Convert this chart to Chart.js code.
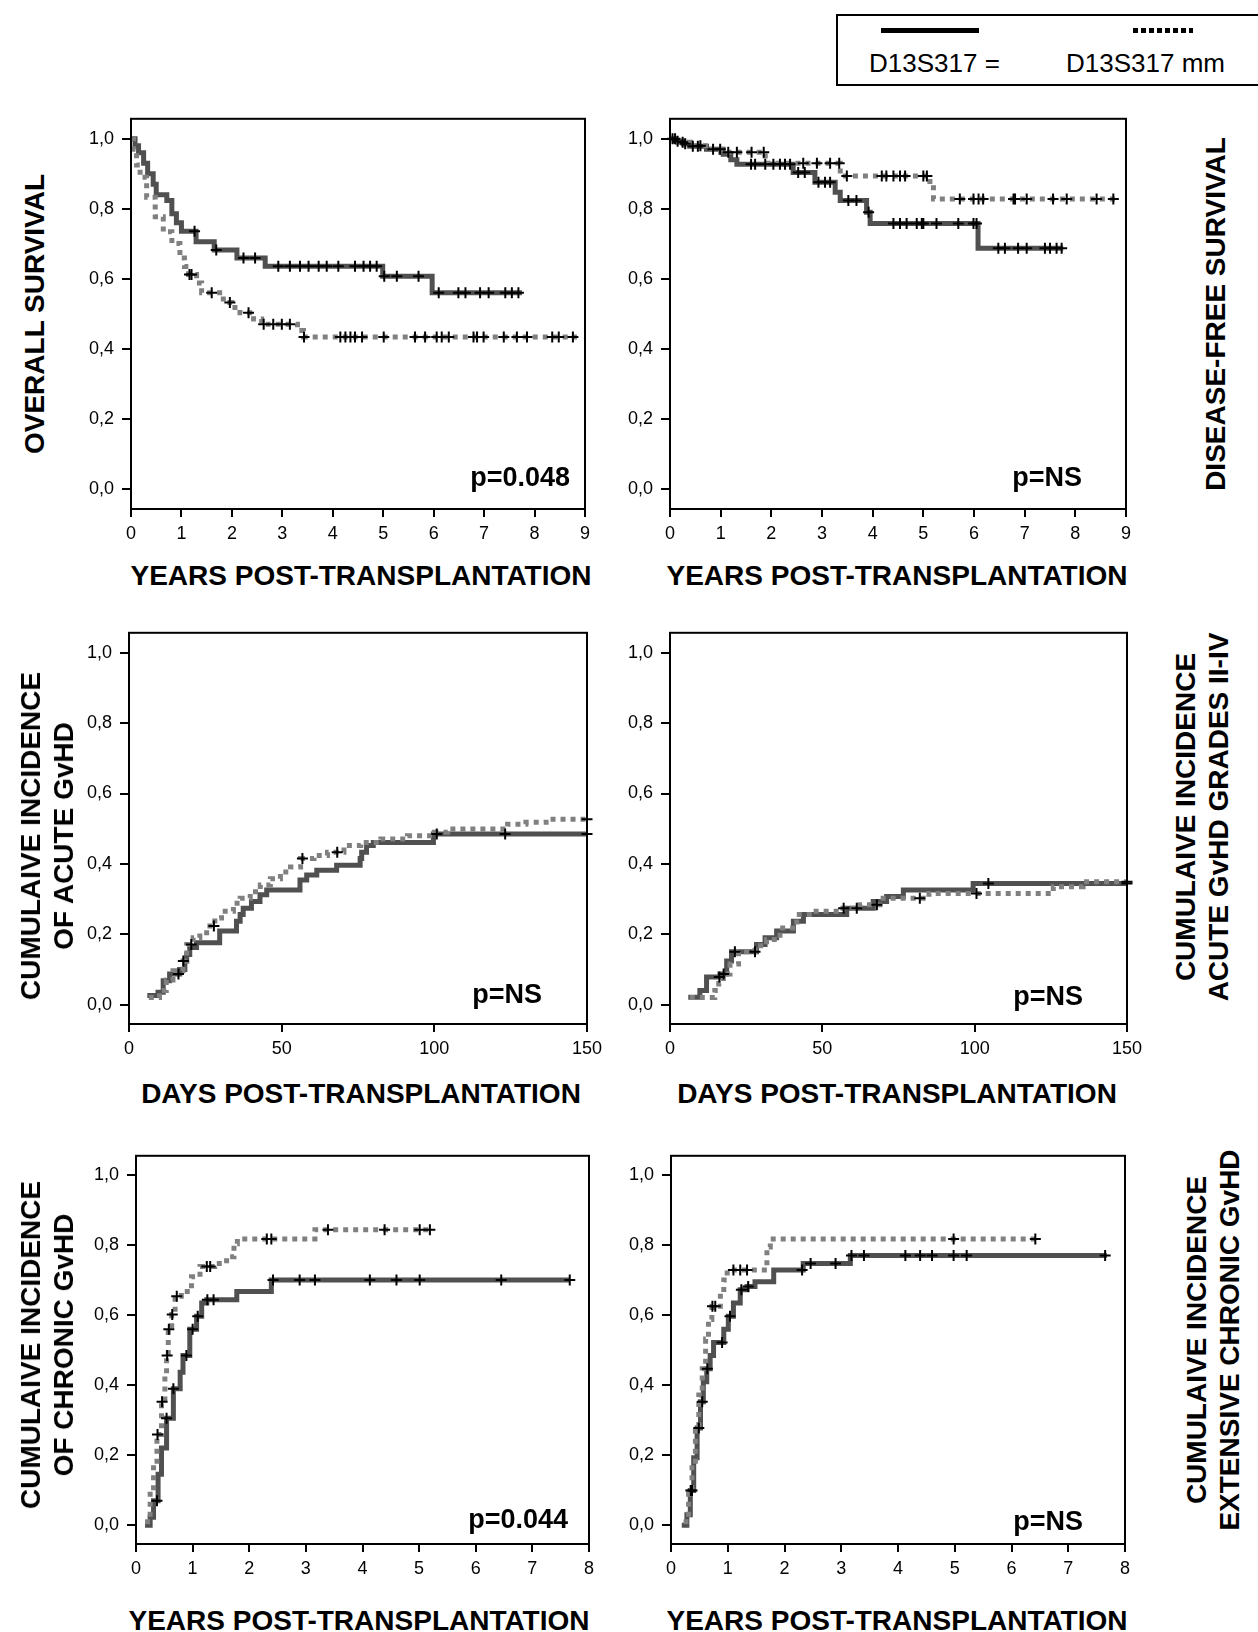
<!DOCTYPE html>
<html><head><meta charset="utf-8">
<script src="https://cdn.jsdelivr.net/npm/chart.js@4.4.1/dist/chart.umd.min.js"></script>
<style>
html,body{margin:0;padding:0;background:#fff;}
body{width:1258px;height:1632px;position:relative;overflow:hidden;font-family:"Liberation Sans",Arial,sans-serif;}
canvas{position:absolute;}
.t{position:absolute;font-weight:bold;font-size:28px;line-height:28px;color:#000;text-align:center;white-space:nowrap;width:600px;}
.rot{position:absolute;font-weight:bold;font-size:28px;line-height:33px;color:#000;text-align:center;white-space:nowrap;transform:translate(-50%,-50%) rotate(-90deg);}
.leg{position:absolute;font-size:26px;line-height:26px;color:#000;white-space:nowrap;}
</style></head><body>

<div style="position:absolute;left:836px;top:14px;width:440px;height:68px;border:2px solid #000;"></div>
<div style="position:absolute;left:881px;top:28px;width:98px;height:5px;background:#000;"></div>
<div style="position:absolute;left:1133px;top:28px;width:60px;height:5px;background:repeating-linear-gradient(to right,#000 0,#000 5px,transparent 5px,transparent 8px);"></div>
<div class="leg" style="left:869px;top:50px;">D13S317 =</div>
<div class="leg" style="left:1066px;top:50px;">D13S317 mm</div>

<canvas id="c0"></canvas><canvas id="c1"></canvas>
<canvas id="c2"></canvas><canvas id="c3"></canvas>
<canvas id="c4"></canvas><canvas id="c5"></canvas>

<div class="t" style="left:61px;top:562px;">YEARS POST-TRANSPLANTATION</div>
<div class="t" style="left:597px;top:562px;">YEARS POST-TRANSPLANTATION</div>
<div class="t" style="left:61px;top:1080px;">DAYS POST-TRANSPLANTATION</div>
<div class="t" style="left:597px;top:1080px;">DAYS POST-TRANSPLANTATION</div>
<div class="t" style="left:59px;top:1607px;">YEARS POST-TRANSPLANTATION</div>
<div class="t" style="left:597px;top:1607px;">YEARS POST-TRANSPLANTATION</div>

<div class="rot" style="left:34px;top:314px;">OVERALL SURVIVAL</div>
<div class="rot" style="left:1215px;top:314px;">DISEASE-FREE SURVIVAL</div>
<div class="rot" style="left:47px;top:836px;">CUMULAIVE INCIDENCE<br>OF ACUTE GvHD</div>
<div class="rot" style="left:1202px;top:817px;">CUMULAIVE INCIDENCE<br>ACUTE GvHD GRADES II-IV</div>
<div class="rot" style="left:47px;top:1345px;">CUMULAIVE INCIDENCE<br>OF CHRONIC GvHD</div>
<div class="rot" style="left:1213px;top:1340px;">CUMULAIVE INCIDENCE<br>EXTENSIVE CHRONIC GvHD</div>

<script>
// ---------- DATA ----------
const yTicks = [0, 0.2, 0.4, 0.6, 0.8, 1.0];
const yearTicks9 = [0,1,2,3,4,5,6,7,8,9];
const dayTicks = [0,50,100,150];
const yearTicks8 = [0,1,2,3,4,5,6,7,8];
const pValues = ['p=0.048','p=NS','p=NS','p=NS','p=0.044','p=NS'];

// Overall survival (years, survival)
const osMatch = [[0,1.0],[0.08,0.98],[0.15,0.96],[0.25,0.93],[0.33,0.9],[0.44,0.87],[0.5,0.84],[0.71,0.824],[0.81,0.786],[0.9,0.76],[1.0,0.736],[1.29,0.706],[1.65,0.682],[2.1,0.659],[2.66,0.636],[4.99,0.607],[5.97,0.56],[7.75,0.56]];
const osMatchCens = [1.26,1.69,2.23,2.46,2.92,3.15,3.35,3.52,3.72,3.88,4.11,4.44,4.61,4.74,4.87,5.02,5.27,5.7,6.1,6.49,6.63,6.92,7.09,7.42,7.55,7.68];
const osMism = [[0,1.0],[0.05,0.97],[0.11,0.925],[0.18,0.89],[0.31,0.833],[0.48,0.777],[0.64,0.734],[0.81,0.701],[0.97,0.659],[1.06,0.635],[1.14,0.612],[1.3,0.588],[1.4,0.56],[1.83,0.532],[2.0,0.518],[2.16,0.503],[2.43,0.485],[2.59,0.47],[3.3,0.452],[3.42,0.433],[8.84,0.433]];
const osMismCens = [1.16,1.2,1.6,1.96,2.33,2.63,2.82,2.99,3.15,3.43,4.15,4.25,4.35,4.44,4.58,5.01,5.63,5.83,6.06,6.16,6.3,6.79,6.86,6.99,7.39,7.65,7.85,8.35,8.48,8.76];

// Disease-free survival (years, survival)
const dfsMatch = [[0,1.0],[0.1,0.993],[0.26,0.986],[0.39,0.979],[0.72,0.97],[1.05,0.956],[1.2,0.94],[1.32,0.927],[2.43,0.904],[2.86,0.876],[3.26,0.847],[3.36,0.824],[3.88,0.79],[3.95,0.758],[6.08,0.687],[7.76,0.687]];
const dfsMatchCens = [0.05,0.15,0.3,0.45,0.55,0.85,1.6,1.68,1.88,2.04,2.17,2.27,2.37,2.53,2.66,2.93,3.06,3.16,3.52,3.68,3.92,4.41,4.54,4.67,4.87,4.97,5.0,5.26,5.69,5.99,6.05,6.48,6.61,6.87,7.04,7.4,7.5,7.63,7.73];
const dfsMism = [[0,1.0],[0.15,0.99],[0.4,0.98],[0.7,0.97],[1.0,0.962],[1.88,0.93],[3.36,0.894],[5.13,0.87],[5.2,0.828],[8.82,0.828]];
const dfsMismCens = [0.1,0.25,0.6,0.99,1.15,1.32,1.61,1.85,2.63,2.9,3.16,3.34,3.49,4.18,4.27,4.41,4.54,4.64,5.0,5.07,5.72,5.99,6.09,6.18,6.78,6.81,7.04,7.56,7.83,8.42,8.75];

// Acute GvHD (days, cumulative incidence)
const agvhdMatch = [[6,0.026],[9.5,0.035],[11.2,0.068],[13.3,0.087],[16.6,0.1],[18.3,0.124],[18.9,0.142],[19.9,0.162],[22.1,0.176],[29.7,0.209],[35.2,0.237],[36.4,0.256],[37.4,0.274],[40.1,0.293],[42.9,0.312],[45.1,0.326],[56,0.354],[58.2,0.368],[61.5,0.382],[68,0.396],[75.7,0.415],[76.2,0.433],[77.8,0.452],[80,0.461],[99.7,0.485],[150,0.485]];
const agvhdMatchCens = [16.2,100.8,123.2,150];
const agvhdMism = [[6.5,0.02],[10,0.04],[12.2,0.07],[14.4,0.096],[17.7,0.124],[18.9,0.171],[21,0.19],[23.2,0.204],[26.5,0.223],[28.1,0.246],[30.3,0.265],[34.2,0.288],[36.4,0.302],[39.7,0.321],[43,0.34],[46.3,0.358],[49.6,0.377],[52.9,0.391],[56.2,0.415],[60.6,0.424],[65,0.433],[70.4,0.452],[75.9,0.461],[82.5,0.471],[91.2,0.48],[100,0.49],[104.4,0.499],[124,0.513],[130,0.518],[136.6,0.527],[150,0.527]];
const agvhdMismCens = [17.8,20.4,27.8,56.8,68.2,150];

// Acute GvHD grades II-IV (days, cumulative incidence)
const agvhd24Match = [[6,0.021],[9.8,0.04],[12,0.078],[16.4,0.087],[18.6,0.124],[20.2,0.15],[28.4,0.171],[31.2,0.19],[35,0.209],[40.5,0.237],[43.8,0.256],[58,0.274],[66.7,0.293],[71.1,0.307],[76.6,0.326],[99.5,0.344],[150,0.344]];
const agvhd24MatchCens = [16.2,21.3,27.9,104.5,150];
const agvhd24Mism = [[6.5,0.02],[14.7,0.04],[16,0.06],[17.5,0.087],[19.7,0.115],[22.5,0.15],[27.9,0.167],[31.7,0.185],[36.1,0.218],[41.6,0.256],[47,0.265],[55.8,0.274],[62.4,0.284],[68.9,0.302],[85,0.316],[125.8,0.335],[135.6,0.349],[150,0.349]];
const agvhd24MismCens = [17.6,57,61.3,67.9,82,100.6,150];

// Chronic GvHD (years, cumulative incidence)
const cgvhdMatch = [[0.16,0],[0.25,0.023],[0.31,0.07],[0.39,0.146],[0.45,0.221],[0.54,0.306],[0.66,0.39],[0.78,0.437],[0.83,0.485],[0.95,0.56],[1.07,0.597],[1.16,0.635],[1.25,0.644],[1.78,0.668],[2.39,0.701],[7.66,0.701]];
const cgvhdMatchCens = [0.37,0.54,0.66,0.89,1.0,1.09,1.26,1.37,2.42,2.89,3.16,4.13,4.6,5.01,6.45,7.66];
const cgvhdMism = [[0.16,0.01],[0.25,0.099],[0.31,0.183],[0.37,0.259],[0.45,0.353],[0.51,0.428],[0.54,0.485],[0.57,0.56],[0.63,0.602],[0.69,0.654],[0.8,0.668],[0.98,0.71],[1.13,0.739],[1.39,0.748],[1.6,0.767],[1.73,0.804],[1.79,0.818],[3.16,0.844],[5.25,0.844]];
const cgvhdMismCens = [0.38,0.46,0.55,0.58,0.64,0.72,1.25,1.31,2.31,2.39,3.39,4.39,5.01,5.19];

// Extensive chronic GvHD (years, cumulative incidence)
const ecgvhdMatch = [[0.19,0],[0.28,0.03],[0.34,0.099],[0.4,0.193],[0.46,0.278],[0.52,0.353],[0.57,0.41],[0.63,0.447],[0.69,0.485],[0.75,0.522],[0.93,0.56],[1.01,0.597],[1.1,0.635],[1.22,0.673],[1.34,0.682],[1.48,0.696],[1.81,0.729],[2.33,0.748],[3.16,0.771],[7.68,0.771]];
const ecgvhdMatchCens = [0.35,0.37,0.49,0.55,0.64,0.9,1.04,1.24,1.36,2.31,2.46,2.9,3.18,3.4,4.13,4.39,4.6,4.98,5.21,7.65];
const ecgvhdMism = [[0.22,0.01],[0.31,0.099],[0.37,0.183],[0.43,0.278],[0.49,0.372],[0.55,0.447],[0.61,0.532],[0.66,0.588],[0.72,0.626],[0.87,0.663],[0.93,0.701],[0.99,0.729],[1.69,0.795],[1.75,0.818],[6.44,0.818]];
const ecgvhdMismCens = [0.73,0.78,1.1,1.22,1.34,4.98,6.42];

// ---------- LAYOUT ----------
const boxes = [[131,114,585,509],[670,114,1126,509],[129,628,587,1024],[670,628,1127,1024],[136,1151,589,1544],[671,1151,1125,1544]];
const yRanges = [[-0.0585,1.0573],[-0.0585,1.0573],[-0.0553,1.057],[-0.0553,1.057],[-0.0536,1.0556],[-0.0536,1.0556]];
const pOffsets = [[15,23],[44,23],[45,21],[44,19],[21,16],[42,14]];
const AXW = 80, AXH = 46, PADT = 14, PADR = 30;
const FONT = '"Liberation Sans", Arial, sans-serif';

const panels = [
  {solid: osMatch, sc: osMatchCens, dot: osMism, dc: osMismCens, xt: yearTicks9},
  {solid: dfsMatch, sc: dfsMatchCens, dot: dfsMism, dc: dfsMismCens, xt: yearTicks9},
  {solid: agvhdMatch, sc: agvhdMatchCens, dot: agvhdMism, dc: agvhdMismCens, xt: dayTicks},
  {solid: agvhd24Match, sc: agvhd24MatchCens, dot: agvhd24Mism, dc: agvhd24MismCens, xt: dayTicks},
  {solid: cgvhdMatch, sc: cgvhdMatchCens, dot: cgvhdMism, dc: cgvhdMismCens, xt: yearTicks8},
  {solid: ecgvhdMatch, sc: ecgvhdMatchCens, dot: ecgvhdMism, dc: ecgvhdMismCens, xt: yearTicks8}
];

function stepVal(curve, t) {
  let v = curve[0][1];
  for (const [x, y] of curve) { if (x <= t) v = y; }
  return v;
}
const toPts = c => c.map(([x, y]) => ({x, y}));
const censPts = (times, curve) => times.map(t => ({x: t, y: stepVal(curve, t)}));

const framePlugin = {
  id: 'frame',
  afterDraw(chart) {
    const {ctx, chartArea: a} = chart;
    ctx.save();
    ctx.strokeStyle = '#000';
    ctx.lineWidth = 2;
    ctx.strokeRect(a.left, a.top, a.right - a.left, a.bottom - a.top);
    const o = chart.options.plugins.pval;
    ctx.fillStyle = '#000';
    ctx.font = 'bold 27px ' + FONT;
    ctx.textAlign = 'right';
    ctx.textBaseline = 'alphabetic';
    ctx.fillText(o.text, a.right - o.dx, a.bottom - o.dy);
    ctx.restore();
  }
};

panels.forEach((p, i) => {
  const [L, T, R, B] = boxes[i];
  const cv = document.getElementById('c' + i);
  const w = (R - L) + AXW + PADR, h = (B - T) + PADT + AXH;
  cv.width = w; cv.height = h;
  cv.style.left = (L - AXW) + 'px';
  cv.style.top = (T - PADT) + 'px';
  cv.style.width = w + 'px'; cv.style.height = h + 'px';
  const xt = p.xt;
  const tickFont = {family: FONT, size: 18};
  new Chart(cv, {
    type: 'line',
    data: {datasets: [
      {data: censPts(p.sc, p.solid), showLine: false, pointStyle: 'cross', pointRadius: 5.5, pointBorderColor: '#000', pointBorderWidth: 2, order: 0, clip: 8},
      {data: censPts(p.dc, p.dot), showLine: false, pointStyle: 'cross', pointRadius: 5.5, pointBorderColor: '#000', pointBorderWidth: 2, order: 0, clip: 8},
      {data: toPts(p.solid), borderColor: '#505050', borderWidth: 5, stepped: 'before', pointRadius: 0, fill: false, order: 2, borderCapStyle: 'butt', borderJoinStyle: 'miter'},
      {data: toPts(p.dot), borderColor: '#808080', borderWidth: 5, borderDash: [5, 5], stepped: 'before', pointRadius: 0, fill: false, order: 1, borderCapStyle: 'butt', borderJoinStyle: 'miter'}
    ]},
    options: {
      responsive: false, animation: false, devicePixelRatio: 1, events: [],
      layout: {padding: {left: 0, top: PADT, right: PADR, bottom: 0}},
      plugins: {legend: {display: false}, tooltip: {enabled: false},
        pval: {text: pValues[i], dx: pOffsets[i][0], dy: pOffsets[i][1]}},
      scales: {
        x: {type: 'linear', min: xt[0], max: xt[xt.length - 1],
          afterBuildTicks: s => { s.ticks = xt.map(v => ({value: v})); },
          afterFit: s => { s.height = AXH; },
          grid: {display: true, drawOnChartArea: false, drawTicks: true, tickLength: 8, color: '#000', lineWidth: 2},
          border: {display: false},
          ticks: {autoSkip: false, maxRotation: 0, padding: 6, color: '#000', font: tickFont, callback: v => String(v)}},
        y: {type: 'linear', min: yRanges[i][0], max: yRanges[i][1],
          afterBuildTicks: s => { s.ticks = yTicks.map(v => ({value: v})); },
          afterFit: s => { s.width = AXW; },
          grid: {display: true, drawOnChartArea: false, drawTicks: true, tickLength: 9, color: '#000', lineWidth: 2},
          border: {display: false},
          ticks: {padding: 8, color: '#000', font: tickFont, callback: v => v.toFixed(1).replace('.', ',')}}
      }
    },
    plugins: [framePlugin]
  });
});
</script>
</body></html>
